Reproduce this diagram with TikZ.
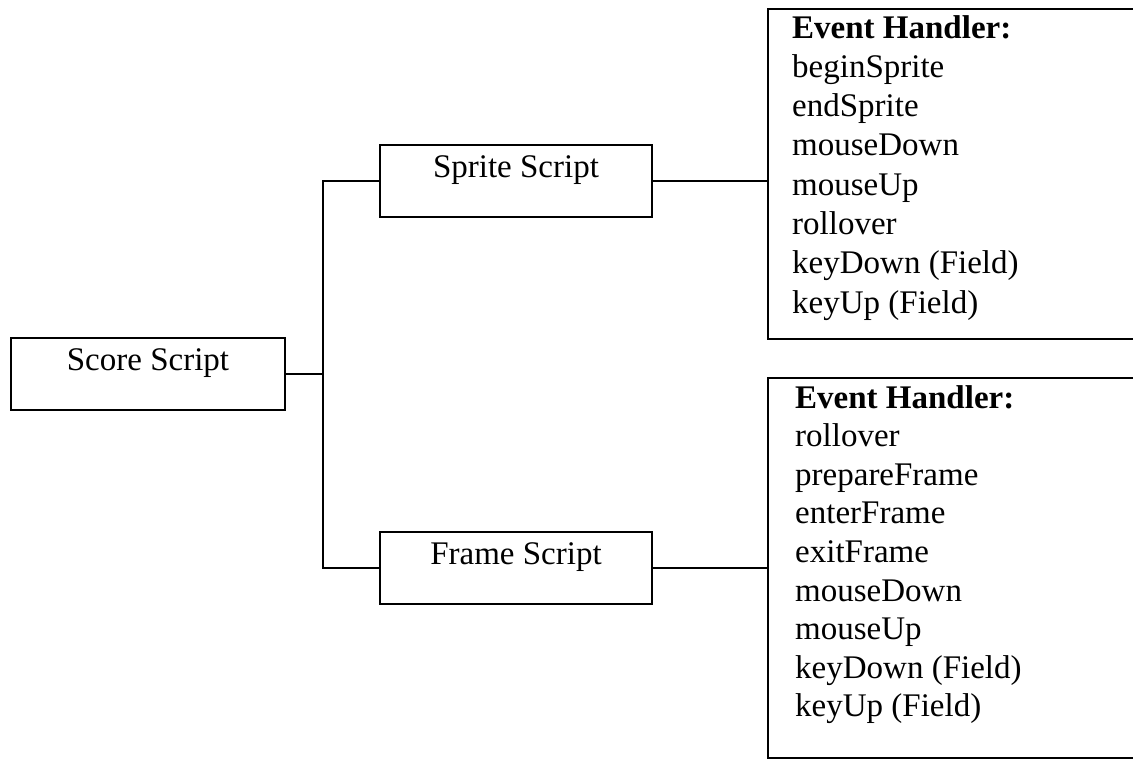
\documentclass[tikz,border=0pt]{standalone}
\usepackage{fontspec}
\setmainfont{Liberation Serif}
\begin{document}
\begin{tikzpicture}[x=1pt, y=-1pt, line width=2.4pt,
  txt/.style={font=\fontsize{33}{40}\selectfont, inner sep=0pt},
  scriptbox/.style={draw, rectangle, inner sep=0pt, txt,
    minimum width=272pt, minimum height=72pt,
    text height=22pt, text depth=30pt},
  listbox/.style={draw, rectangle, inner sep=0pt, anchor=north west,
    minimum width=420pt},
  item/.style={txt, anchor=base west},
  link/.style={draw, line cap=rect}]
  % page area
  \clip (0,0) rectangle (1133,761);
  \fill[white] (0,0) rectangle (1133,761);

  % script boxes
  \node[scriptbox, minimum width=274pt] (score) at (148,374) {Score Script};
  \node[scriptbox] (sprite) at (516,181) {Sprite Script};
  \node[scriptbox] (frame)  at (516,568) {Frame Script};

  % event handler boxes (open to the right)
  \node[listbox, minimum height=330pt] (evtop) at (767,8) {};
  \node[listbox, minimum height=380pt] (evbot) at (767,377) {};

  % handlers of the sprite script
  \node[item] (st0) at (791,38) {\bfseries Event Handler:};
  \foreach \t [count=\i] in {beginSprite, endSprite, mouseDown, mouseUp,
      rollover, keyDown (Field), keyUp (Field)}
    \node[item] (st\i) at (791,38+39.3*\i) {\t};

  % handlers of the frame script
  \node[item] (fr0) at (794,408) {\bfseries Event Handler:};
  \foreach \t [count=\i] in {rollover, prepareFrame, enterFrame, exitFrame,
      mouseDown, mouseUp, keyDown (Field), keyUp (Field)}
    \node[item] (fr\i) at (794,408+38.6*\i) {\t};

  % tree connectors
  \coordinate (trunk) at (323,0);
  \path[link] (score.east) -- (score.east -| trunk);
  \path[link] (sprite.west -| trunk) -- (frame.west -| trunk);
  \path[link] (sprite.west) -- (sprite.west -| trunk);
  \path[link] (frame.west) -- (frame.west -| trunk);
  \path[link] (sprite.east) -- (sprite.east -| evtop.west);
  \path[link] (frame.east) -- (frame.east -| evbot.west);
\end{tikzpicture}
\end{document}
